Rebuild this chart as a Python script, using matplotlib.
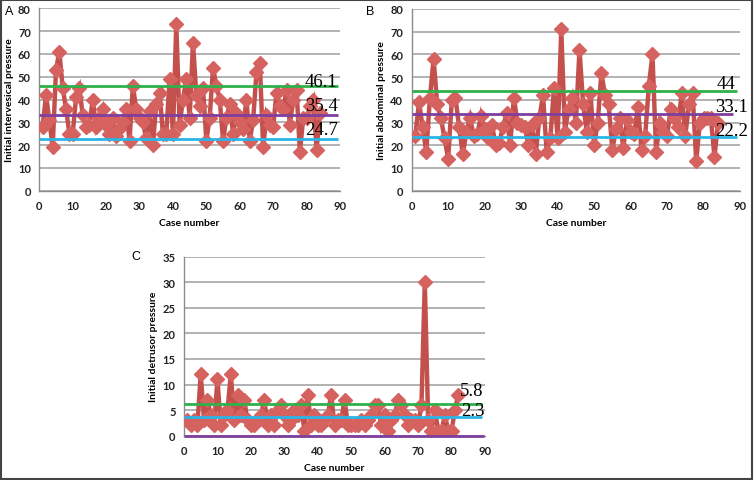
import matplotlib
matplotlib.use("Agg")
import matplotlib.pyplot as plt
from matplotlib.patches import Rectangle

# ---------------- data ----------------
cases_a = list(range(1, 85))
intervesical = [28, 42, 31, 19, 53, 61, 45, 36, 25, 25, 41, 45, 33, 28, 29, 40, 28, 32, 36, 29,
                25, 32, 24, 27, 30, 36, 22, 46, 36, 32, 30, 23, 35, 20, 38, 43, 25, 25, 49, 25,
                73, 29, 40, 49, 32, 65, 42, 37, 45, 22, 32, 54, 46, 40, 22, 32, 38, 25, 34, 30,
                27, 40, 22, 31, 52, 56, 19, 33, 29, 28, 43, 37, 36, 44, 29, 40, 44, 17, 32, 32,
                37, 40, 18, 34]

cases_b = list(range(1, 85))
abdominal = [24, 39, 28, 17, 41, 58, 38, 32, 23, 14, 40, 41, 28, 16, 26, 32, 24, 25, 33, 27,
             23, 29, 20, 21, 28, 34, 20, 41, 30, 29, 28, 20, 29, 16, 32, 42, 17, 23, 45, 23,
             71, 26, 36, 41, 30, 62, 38, 26, 43, 20, 30, 52, 42, 38, 18, 27, 32, 19, 31, 26,
             25, 37, 18, 24, 46, 60, 17, 30, 26, 24, 36, 32, 28, 43, 24, 38, 43, 13, 30, 32,
             32, 32, 15, 30]

cases_c = list(range(1, 83))
detrusor = [3, 2, 3, 2, 12, 3, 7, 4, 2, 11, 2, 4, 5, 12, 3, 8, 4, 7, 3, 2,
            2, 3, 4, 7, 2, 4, 2, 5, 6, 4, 2, 3, 5, 4, 6, 1, 8, 2, 4, 2,
            2, 3, 4, 8, 2, 3, 3, 7, 2, 2, 2, 2, 3, 2, 3, 4, 6, 6, 2, 4,
            1, 3, 4, 7, 6, 4, 2, 3, 3, 2, 6, 30, 3, 1, 5, 1, 1, 4, 1, 1,
            5, 8]

# reference lines (green, purple, blue drawn levels) and their printed labels
ref_a = [46.0, 33.2, 22.5]
lab_a = ["46.1", "35.4", "24.7"]
ref_b = [43.8, 33.6, 23.8]
lab_b = ["44", "33.1", "22.2"]
ref_c = [6.2, 0.0, 3.6]
lab_c = ["5.8", "2.3"]

ylab_a = "Initial intervesical pressure"
ylab_b = "Initial abdominal pressure"
ylab_c = "Initial detrusor pressure"
xlab = "Case number"

# ---------------- style ----------------
RED_LINE = "#C4504D"
RED_MARK = "#D6625F"
GREEN = "#2EB14B"
PURPLE = "#7E3F9E"
BLUE = "#2BB5E6"
GRID = "#A6A6A6"
REF_COLORS = [GREEN, PURPLE, BLUE]
FONT = "Lato"

fig = plt.figure(figsize=(7.54, 4.81), dpi=100)
W, H = 754, 481

def ax_at(x0, y0, x1, y1):
    return fig.add_axes([x0 / W, 1 - y1 / H, (x1 - x0) / W, (y1 - y0) / H])

def style(ax, ymax, ystep, ylabel):
    ax.set_xlim(0, 90)
    ax.set_ylim(0, ymax)
    ax.set_xticks(range(0, 91, 10))
    ax.set_yticks(range(0, ymax + 1, ystep))
    ax.grid(axis="y", color=GRID, linewidth=1.2, zorder=0)
    ax.set_axisbelow(True)
    for s in ["top", "right"]:
        ax.spines[s].set_visible(False)
    for s in ["left", "bottom"]:
        ax.spines[s].set_color("#8C8C8C")
        ax.spines[s].set_linewidth(1.0)
    ax.tick_params(axis="x", length=0, labelsize=8, colors="#222222", pad=7)
    ax.tick_params(axis="y", length=0, labelsize=8, colors="#222222", pad=6)
    for t in ax.get_xticklabels() + ax.get_yticklabels():
        t.set_family(FONT)
        t.set_fontweight("bold")
    ax.set_xlabel(xlab, fontsize=7.5, fontweight="bold", family=FONT, labelpad=5)
    ax.set_ylabel(ylabel, fontsize=7.5, fontweight="bold", family=FONT, labelpad=3)

def draw_series(ax, x, y):
    ax.plot(x, y, color=RED_LINE, linewidth=3.2, zorder=3, solid_joinstyle="miter")
    ax.plot(x, y, linestyle="none", marker="D", markersize=7,
            markerfacecolor=RED_MARK, markeredgecolor=RED_MARK, zorder=4)

def ref_lines(ax, levels, ends):
    for v, c, xe in zip(levels, REF_COLORS, ends):
        ax.plot([0, xe], [v, v], color=c, linewidth=2.0, zorder=5,
                solid_capstyle="butt", clip_on=False)

def ref_labels(ax, labels, xs, ys):
    for txt, xx, yy in zip(labels, xs, ys):
        ax.text(xx, yy, txt, fontsize=13.5, family="Liberation Serif", va="center",
                ha="left", zorder=6)

# ---- Panel A ----
axA = ax_at(39.3, 9.3, 340, 191.7)
style(axA, 80, 10, ylab_a)
draw_series(axA, cases_a, intervesical)
ref_lines(axA, ref_a, [89.5, 89.5, 89.5])
ref_labels(axA, lab_a, [79.5, 79.5, 79.5], [47.8, 37.3, 26.7])

# ---- Panel B ----
axB = ax_at(411.7, 10, 740, 191.7)
style(axB, 80, 10, ylab_b)
draw_series(axB, cases_b, abdominal)
ref_lines(axB, ref_b, [89.1, 88.0, 89.1])
ref_labels(axB, lab_b, [83.6, 83.2, 83.2], [47.4, 37.0, 26.7])

# ---- Panel C ----
axC = ax_at(184, 257.7, 485, 436.7)
style(axC, 35, 5, ylab_c)
draw_series(axC, cases_c, detrusor)
ref_lines(axC, ref_c, [89.0, 89.7, 89.0])
ref_labels(axC, lab_c, [82.5, 83.0], [8.8, 4.9])

# panel letters
fig.text(5 / W, 1 - 12 / H, "A", fontsize=9, family="Liberation Sans", va="center")
fig.text(366 / W, 1 - 12 / H, "B", fontsize=9, family="Liberation Sans", va="center")
fig.text(131 / W, 1 - 257 / H, "C", fontsize=9, family="Liberation Sans", va="center")

# outer frame
fig.patches.append(Rectangle((0.001, 0.002), 0.997, 0.996, transform=fig.transFigure,
                             fill=False, edgecolor="#444444", linewidth=1.5))

fig.savefig("out.png", dpi=100)
